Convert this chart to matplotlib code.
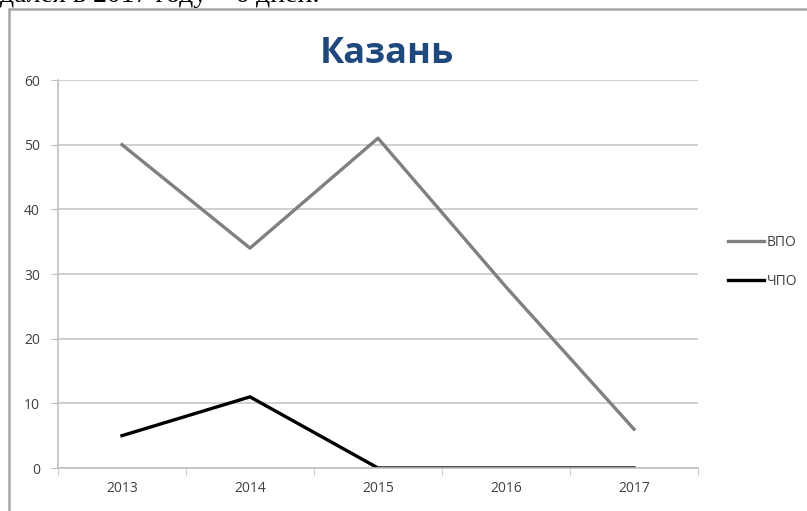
import matplotlib.pyplot as plt
from matplotlib.lines import Line2D
from matplotlib.patches import Rectangle

years = ["2013", "2014", "2015", "2016", "2017"]
vpo = [50, 34, 51, 28, 6]
chpo = [5, 11, 0, 0, 0]
yticks = [0, 10, 20, 30, 40, 50, 60]

plt.rcParams["font.family"] = ["Open Sans", "DejaVu Sans"]

fig = plt.figure(figsize=(8.07, 5.11), dpi=100)

# обрезанная строка текста над диаграммой
fig.text(0.0, 1 - 2 / 511, "далея в 2017 году – 6 дней.", family="Liberation Serif",
         fontsize=20, va="baseline", ha="left", color="black")

# рамка области диаграммы
fig.patches.append(Rectangle((9 / 807, -0.1), 1.2, 1 - 9 / 511 + 0.1,
                             transform=fig.transFigure, fill=False,
                             edgecolor="#a6a6a6", linewidth=1.8))

ax = fig.add_axes([58 / 807, 1 - 468 / 511, 640 / 807, 388 / 511])
x = range(len(years))
ax.plot(x, vpo, color="#808080", linewidth=2.4, label="ВПО")
ax.plot(x, chpo, color="black", linewidth=2.4, label="ЧПО")

ax.set_xlim(-0.5, 4.5)
ax.set_ylim(0, 60)
ax.set_yticks(yticks)
ax.set_xticks(list(x))
ax.set_xticklabels(years)
ax.set_xticks([i - 0.5 for i in range(6)], minor=True)
ax.grid(axis="y", color="#d0d0d0", linewidth=1.4)
ax.set_axisbelow(True)

for s in ["top", "right"]:
    ax.spines[s].set_visible(False)
for s in ["left", "bottom"]:
    ax.spines[s].set_color("#c0c0c0")
    ax.spines[s].set_linewidth(1.2)

ax.tick_params(axis="y", length=5, color="#c0c0c0", labelsize=10, labelcolor="#404040", pad=8)
ax.tick_params(axis="x", which="major", length=0, labelsize=10, labelcolor="#404040", pad=9)
ax.tick_params(axis="x", which="minor", length=5, color="#c0c0c0")

fig.text(0.48, 1 - 54 / 511, "Казань", fontsize=26, fontweight="bold",
         color="#1f497d", ha="center", va="center")

handles = [Line2D([], [], color="#808080", linewidth=2.4),
           Line2D([], [], color="black", linewidth=2.4)]
fig.legend(handles, ["ВПО", "ЧПО"], loc="center left",
           bbox_to_anchor=(715 / 807, 1 - 262 / 511), frameon=False,
           fontsize=10, handlelength=2.6, handletextpad=0.2, labelspacing=1.7,
           labelcolor="#404040")

fig.savefig("out.png", dpi=100)
